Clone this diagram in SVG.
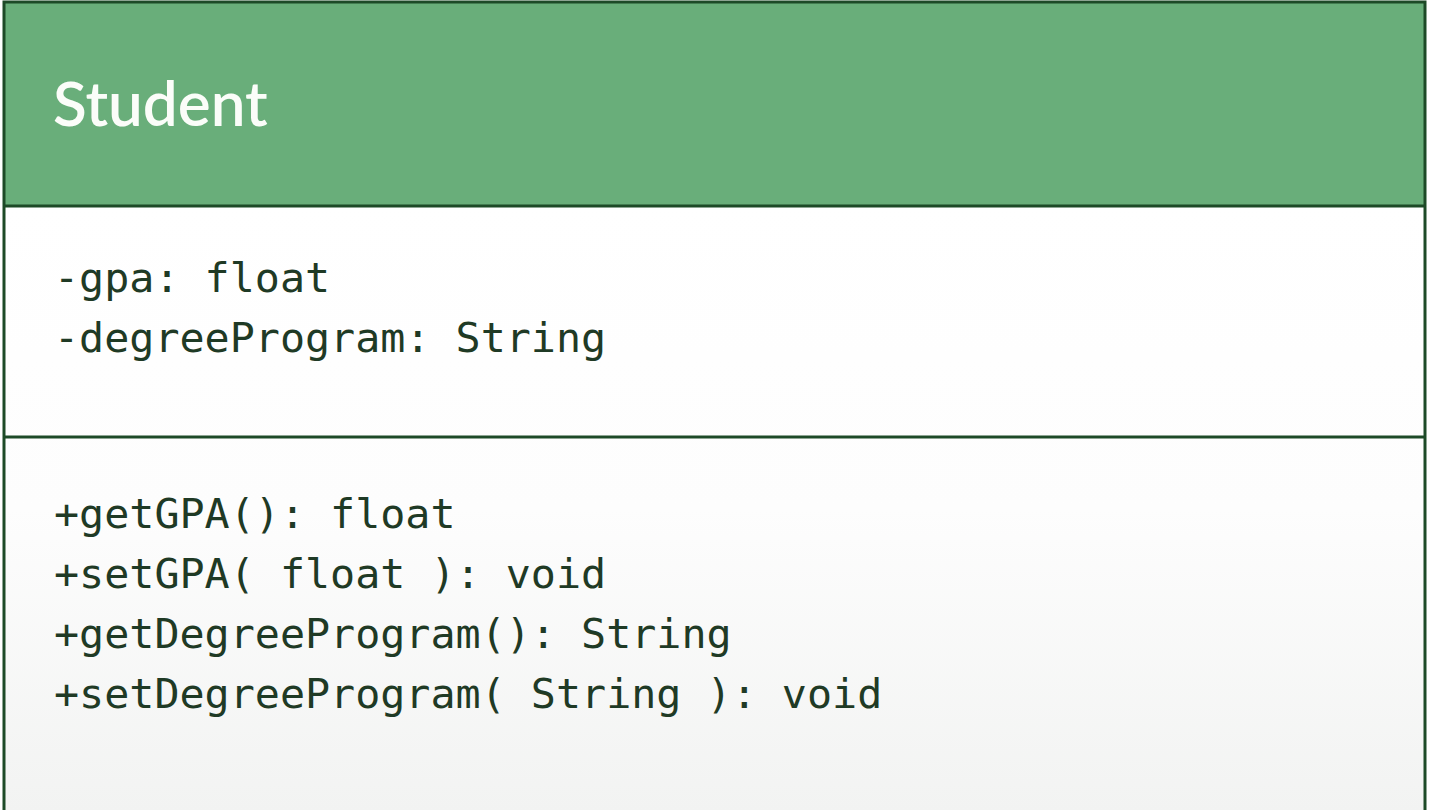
<svg xmlns="http://www.w3.org/2000/svg" width="1429" height="810" viewBox="0 0 1429 810">
  <defs>
    <linearGradient id="bodyGrad" x1="0" y1="0" x2="0" y2="1">
      <stop offset="0" stop-color="#ffffff"/>
      <stop offset="0.5" stop-color="#fdfdfd"/>
      <stop offset="1" stop-color="#f2f3f2"/>
    </linearGradient>
    <style>
      .mono { font-family: "DejaVu Sans Mono", "Liberation Mono", monospace; font-size: 41.7px; fill: #1f3a25; }
      .title { font-family: "Lato", "Open Sans", sans-serif; font-weight: 600; font-size: 62px; fill: #fbfdf9; }
      .border { stroke: #1d4a27; stroke-width: 3; }
    </style>
  </defs>
  <rect x="0" y="0" width="1429" height="810" fill="#ffffff"/>
  <g id="student">
    <rect x="4" y="206" width="1421" height="606" fill="url(#bodyGrad)"/>
    <rect x="4" y="2" width="1421" height="204" fill="#69ae7a"/>
    <rect x="4" y="2" width="1421" height="830" fill="none" class="border"/>
    <line x1="4" y1="206" x2="1425" y2="206" class="border"/>
    <line x1="4" y1="437" x2="1425" y2="437" class="border"/>
    <text class="title" x="53" y="126">Student</text>
    <text class="mono" x="54" y="292">-gpa: float</text>
    <text class="mono" x="54" y="352">-degreeProgram: String</text>
    <text class="mono" x="54" y="528">+getGPA(): float</text>
    <text class="mono" x="54" y="588">+setGPA( float ): void</text>
    <text class="mono" x="54" y="648">+getDegreeProgram(): String</text>
    <text class="mono" x="54" y="708">+setDegreeProgram( String ): void</text>
  </g>
  <g id="connectors"/>
</svg>
